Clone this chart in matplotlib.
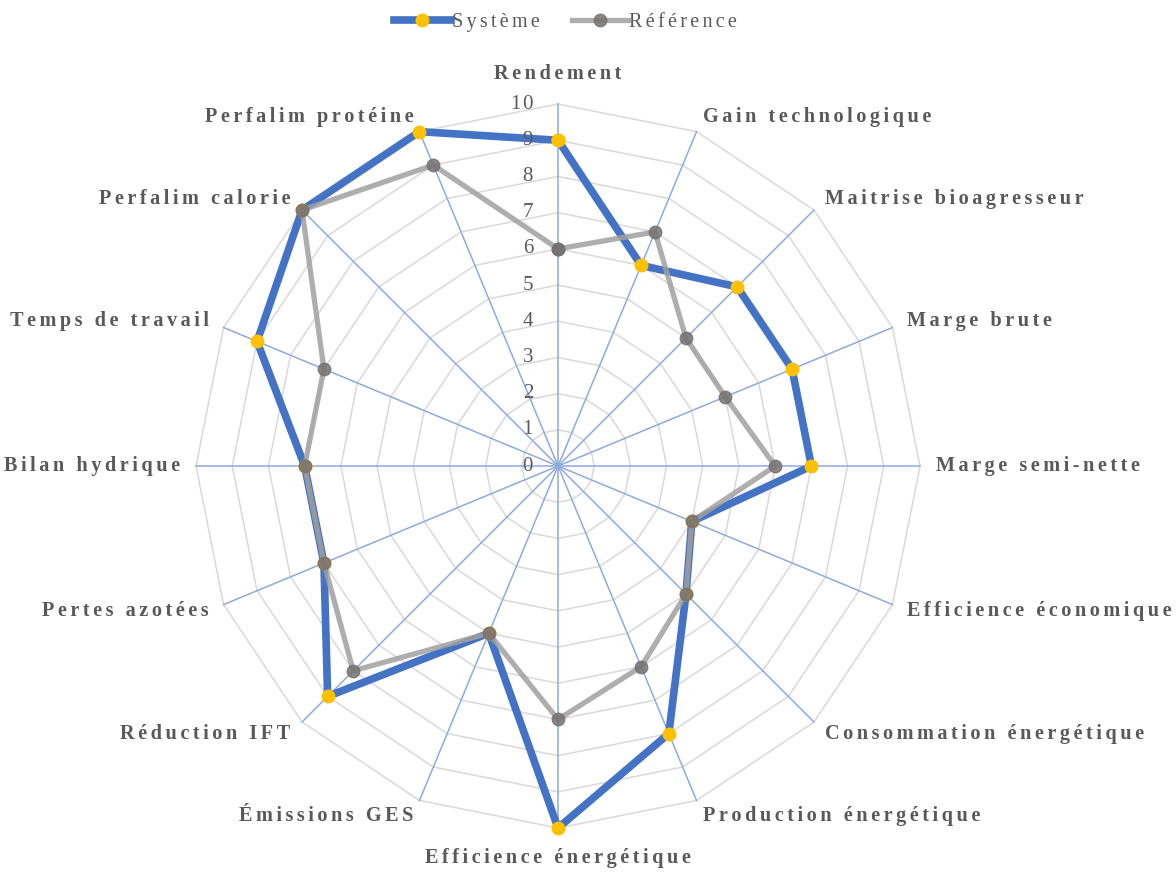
import numpy as np
import matplotlib.pyplot as plt
from matplotlib.lines import Line2D

criteres = ["Rendement", "Gain technologique", "Maitrise bioagresseur", "Marge brute",
            "Marge semi-nette", "Efficience économique", "Consommation énergétique",
            "Production énergétique", "Efficience énergétique", "Émissions GES",
            "Réduction IFT", "Pertes azotées", "Bilan hydrique", "Temps de travail",
            "Perfalim calorie", "Perfalim protéine"]
systeme = [9, 6, 7, 7, 7, 4, 5, 8, 10, 5, 9, 7, 7, 9, 10, 10]
reference = [6, 7, 5, 5, 6, 4, 5, 6, 7, 5, 8, 7, 7, 7, 10, 9]
ticks = list(range(0, 11))
series = ["Système", "Référence"]

plt.rcParams['font.family'] = ['Liberation Serif', 'DejaVu Serif']
txt = '#595959'


def spaced(s, sep='\u2009'):
    # Excel-like letter spacing
    return sep.join(s)


n = len(criteres)
ang = np.arange(n) * 2 * np.pi / n
ang_c = np.append(ang, ang[0])

fig = plt.figure(figsize=(11.76, 8.73), dpi=100)
ax = fig.add_axes([0.1667, 0.0515, 0.6156, 0.8293], projection='polar')
ax.set_theta_zero_location('N')
ax.set_theta_direction(-1)
ax.set_ylim(0, 10)
ax.grid(False)
ax.spines['polar'].set_visible(False)
ax.set_xticks([])
ax.set_yticks([])

# polygon grid
for t in ticks[1:]:
    ax.plot(ang_c, [t] * (n + 1), color='#d9d9d9', lw=1.1, zorder=1, clip_on=False)
# spokes
for a in ang:
    ax.plot([a, a], [0, 10], color='#8faadc', lw=1.1, zorder=2, clip_on=False)

ax.plot(ang_c, systeme + systeme[:1], color='#4472c4', lw=5.5, zorder=3,
        marker='o', ms=9, mfc='#ffc000', mec='#ffc000',
        solid_joinstyle='round', clip_on=False)
ax.plot(ang_c, reference + reference[:1], color='#a0a0a0', lw=3.8, alpha=0.85, zorder=4,
        marker='o', ms=9, mfc='#767171', mec='#767171',
        solid_joinstyle='round', clip_on=False)

# radial tick labels
for t in ticks:
    ax.annotate(spaced(str(t), '\u200a'), xy=(0, t), xytext=(-18, 0),
                textcoords='offset points', ha='right', va='center',
                fontsize=15, color=txt, zorder=5)

# category labels
for a, lab in zip(ang, criteres):
    s = np.sin(a)
    r = 10.45
    if abs(s) < 1e-6:
        ha = 'center'
        va = 'bottom' if np.cos(a) > 0 else 'top'
        r = 10.55
    else:
        ha = 'left' if s > 0 else 'right'
        va = 'center'
    ax.text(a, r, spaced(lab, '\u200a\u200a'), ha=ha, va=va, fontsize=14.6,
            fontweight='bold', color=txt, clip_on=False)

handles = [Line2D([], [], color='#4472c4', lw=5.5, marker='o', ms=9,
                  mfc='#ffc000', mec='#ffc000'),
           Line2D([], [], color='#a0a0a0', lw=3.8, alpha=0.85, marker='o', ms=9,
                  mfc='#767171', mec='#767171')]
fig.legend(handles, [spaced(s, '\u200a\u200a') for s in series], loc='upper center',
           bbox_to_anchor=(0.481, 1.006), ncol=2, frameon=False, fontsize=14.5,
           labelcolor=txt, handlelength=2.8, handletextpad=0.05, columnspacing=1.6)

fig.savefig('out.png', dpi=100)
